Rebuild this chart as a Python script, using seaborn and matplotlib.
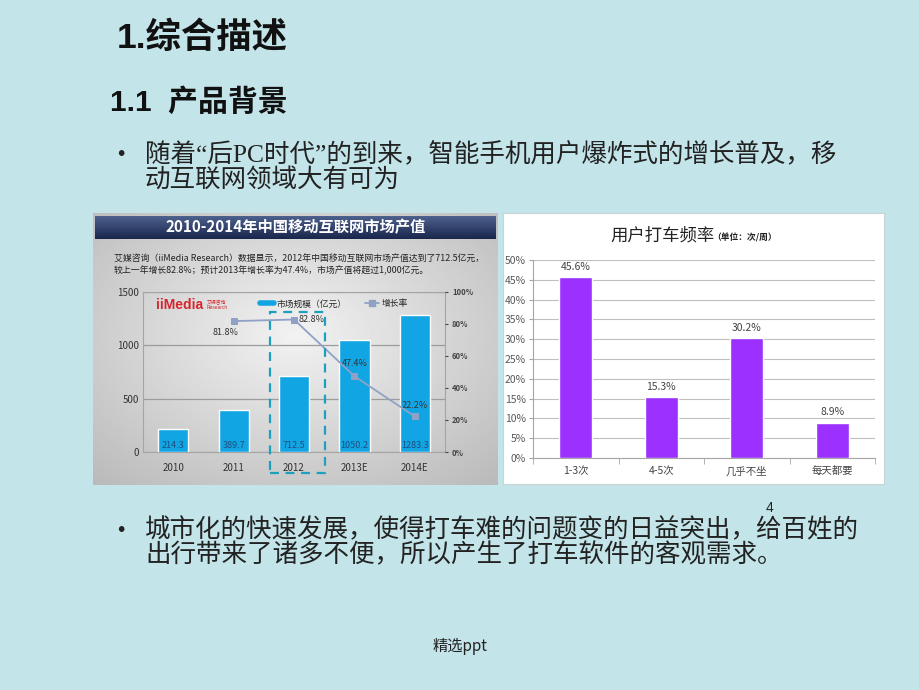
import numpy as np
import pandas as pd
import matplotlib
matplotlib.use("Agg")
import matplotlib.pyplot as plt
import seaborn as sns
from matplotlib.patches import Rectangle
from matplotlib.lines import Line2D

# ---------------- data ----------------
years = ["2010", "2011", "2012", "2013E", "2014E"]
market = [214.3, 389.7, 712.5, 1050.2, 1283.3]
growth_years = ["2011", "2012", "2013E", "2014E"]
growth = [81.8, 82.8, 47.4, 22.2]
left_yticks = [0, 500, 1000, 1500]
right_yticks = [0, 20, 40, 60, 80, 100]

freq_cats = ["1-3次", "4-5次", "几乎不坐", "每天都要"]
freq_vals = [45.6, 15.3, 30.2, 8.9]
freq_yticks = [0, 5, 10, 15, 20, 25, 30, 35, 40, 45, 50]

# ---------------- style ----------------
sns.set_style("white")
plt.rcParams["font.family"] = ["Noto Sans CJK SC", "DejaVu Sans"]

W, H = 920, 690
fig = plt.figure(figsize=(W / 100, H / 100), dpi=100)
fig.patch.set_facecolor("#c3e4e9")


def rect(x0, y0, x1, y1):
    return [x0 / W, 1 - y1 / H, (x1 - x0) / W, (y1 - y0) / H]


def ftext(x, y, s, **kw):
    kw.setdefault("va", "center")
    kw.setdefault("ha", "left")
    return fig.text(x / W, 1 - y / H, s, **kw)


body_fam = ["Liberation Serif", "Noto Sans CJK SC"]

# ---------------- slide text ----------------
ftext(117, 38, "1.综合描述", fontsize=25.5, fontweight="bold", color="#111",
      family=["Liberation Sans", "Noto Sans CJK SC"])
ftext(110, 103, "1.1  产品背景", fontsize=21.5, fontweight="bold", color="#111",
      family=["Liberation Sans", "Noto Sans CJK SC"])
ftext(115, 155, "•", fontsize=14, color="#222", family=["DejaVu Sans"])
ftext(145, 155, "随着“后PC时代”的到来，智能手机用户爆炸式的增长普及，移", fontsize=18.4,
      color="#222", family=body_fam, fontweight="light")
ftext(145, 180, "动互联网领域大有可为", fontsize=18.4, color="#222", family=body_fam,
      fontweight="light")
ftext(115, 530, "•", fontsize=14, color="#222", family=["DejaVu Sans"])
ftext(145, 530, "城市化的快速发展，使得打车难的问题变的日益突出，给百姓的", fontsize=18.4,
      color="#222", family=body_fam, fontweight="light")
ftext(145, 555, "出行带来了诸多不便，所以产生了打车软件的客观需求。", fontsize=18.4,
      color="#222", family=body_fam, fontweight="light")
ftext(770, 508, "4", fontsize=10, color="#222", ha="center", family=["Liberation Sans"])
ftext(460, 646, "精选ppt", fontsize=11, color="#222", ha="center")

# ---------------- left panel (image-like) ----------------
bg = fig.add_axes(rect(93, 213, 498, 485))
bg.axis("off")
yy, xx = np.mgrid[0:1:200j, 0:1:300j]
r = np.sqrt((xx - 0.5) ** 2 + (yy - 0.45) ** 2)
grad = 0.95 - 0.30 * r
bg.imshow(grad, cmap="gray", vmin=0, vmax=1, aspect="auto", extent=[0, 1, 0, 1])

tb = fig.add_axes(rect(95, 216, 496, 239))
tb.axis("off")
t = np.linspace(0, 1, 50)[:, None]
top = np.array([0.30, 0.38, 0.55])
bot = np.array([0.10, 0.15, 0.30])
img = (top * (1 - t) + bot * t)[:, None, :] * np.ones((1, 10, 1))
tb.imshow(img, aspect="auto", extent=[0, 1, 0, 1])
tb.text(0.5, 0.5, "2010-2014年中国移动互联网市场产值", transform=tb.transAxes,
        ha="center", va="center", color="white", fontsize=11, fontweight="bold")

ftext(114, 259, "艾媒咨询（iiMedia Research）数据显示，2012年中国移动互联网市场产值达到了712.5亿元，",
      fontsize=6.4, color="#222")
ftext(114, 271, "较上一年增长82.8%；预计2013年增长率为47.4%，市场产值将超过1,000亿元。",
      fontsize=6.4, color="#222")

ax = fig.add_axes(rect(143, 292, 445, 452))
ax.set_facecolor("none")
df_m = pd.DataFrame({"year": years, "market": market})
sns.barplot(data=df_m, x="year", y="market", color="#12a5e4", saturation=1,
            width=0.5, ax=ax, zorder=3)
ax.set_xlim(-0.5, 4.5)
ax.set_ylim(0, 1500)
ax.set_yticks(left_yticks)
ax.set_xlabel("")
ax.set_ylabel("")
ax.grid(axis="y", color="#9c9c9c", lw=0.9, zorder=0)
for s in ax.spines.values():
    s.set_color("#a5a5a5")
    s.set_linewidth(0.8)
ax.tick_params(axis="y", labelsize=7, colors="#333", length=0, pad=3)
ax.tick_params(axis="x", labelsize=7, colors="#333", length=0, pad=8)
for i, v in enumerate(market):
    ax.text(i, 62, f"{v}", ha="center", va="center", fontsize=6.5, color="#1d4f80", zorder=4)

ax2 = ax.twinx()
gx = [years.index(y) for y in growth_years]
sns.lineplot(x=gx, y=growth, ax=ax2, color="#8fa2c6", marker="s", markersize=5,
             markeredgecolor="#8fa2c6", linewidth=1.3, zorder=5)
ax2.set_ylim(0, 100)
ax2.set_yticks(right_yticks)
ax2.set_yticklabels([f"{v}%" for v in right_yticks])
ax2.tick_params(axis="y", labelsize=5.5, colors="#444", length=2, pad=3)
for lab in ax2.get_yticklabels():
    lab.set_fontweight("bold")
for s in ax2.spines.values():
    s.set_visible(False)
ax2.grid(False)
offs = [(-0.13, -7, "center"), (0.07, 0, "left"), (0, 8, "center"), (0, 7, "center")]
for (xi, v), (dx, dy, ha) in zip(zip(gx, growth), offs):
    ax2.text(xi + dx, v + dy, f"{v}%", ha=ha, va="center", fontsize=6.5, color="#333")

handles = [Line2D([0], [0], color="#12a5e4", lw=4),
           Line2D([0], [0], color="#8fa2c6", lw=1.3, marker="s", markersize=4)]
ax2.legend(handles, ["市场规模（亿元）", "增长率"], loc="center left",
           bbox_to_anchor=(0.36, 0.925), ncol=2, frameon=False, fontsize=6.3,
           handlelength=1.6, columnspacing=2.2, handletextpad=0.3)

ftext(156, 305, "iiMedia", fontsize=10, fontweight="bold", color="#d7262d",
      family=["Liberation Sans"])
ftext(207, 303, "艾媒咨询", fontsize=3.5, color="#d7262d")
ftext(207, 308, "Research", fontsize=3.5, color="#d7262d", family=["Liberation Sans"])

fig.add_artist(Rectangle((270 / W, 1 - 473 / H), 55 / W, 161 / H, transform=fig.transFigure,
                         fill=False, ls=(0, (4, 3)), ec="#1d9fbe", lw=1.6))

# ---------------- right panel ----------------
pn = fig.add_axes(rect(503, 213, 884, 484))
pn.set_facecolor("white")
pn.set_xticks([])
pn.set_yticks([])
for s in pn.spines.values():
    s.set_color("#c8d4d6")

ftext(610, 236, "用户打车频率", fontsize=12.5, color="#222")
ftext(712, 238, "（单位：次/周）", fontsize=6.3, fontweight="bold", color="#222")

bx = fig.add_axes(rect(533, 260, 875, 458))
bx.set_facecolor("none")
df_f = pd.DataFrame({"cat": freq_cats, "val": freq_vals})
sns.barplot(data=df_f, x="cat", y="val", color="#9b30ff", saturation=1,
            width=0.39, ax=bx, zorder=3)
bx.set_xlim(-0.5, 3.5)
bx.set_ylim(0, 50)
bx.set_yticks(freq_yticks)
bx.set_yticklabels([f"{v}%" for v in freq_yticks])
bx.set_xlabel("")
bx.set_ylabel("")
bx.grid(axis="y", color="#bfbfbf", lw=0.8, zorder=0)
for k in ["top", "right"]:
    bx.spines[k].set_visible(False)
for k in ["left", "bottom"]:
    bx.spines[k].set_color("#a6a6a6")
    bx.spines[k].set_linewidth(0.8)
bx.set_xticks([-0.5, 0.5, 1.5, 2.5, 3.5], minor=True)
bx.tick_params(axis="x", which="major", length=0, labelsize=7.5, colors="#444", pad=6)
bx.tick_params(axis="x", which="minor", length=4, direction="out", color="#a6a6a6", bottom=True)
bx.tick_params(axis="y", length=3, direction="out", color="#a6a6a6", left=True,
               labelsize=7.5, colors="#595959", pad=2)
bx.bar_label(bx.containers[0], labels=[f"{v}%" for v in freq_vals], padding=4,
             fontsize=7.5, color="#444")

fig.savefig("out.png", dpi=100, facecolor=fig.get_facecolor())
